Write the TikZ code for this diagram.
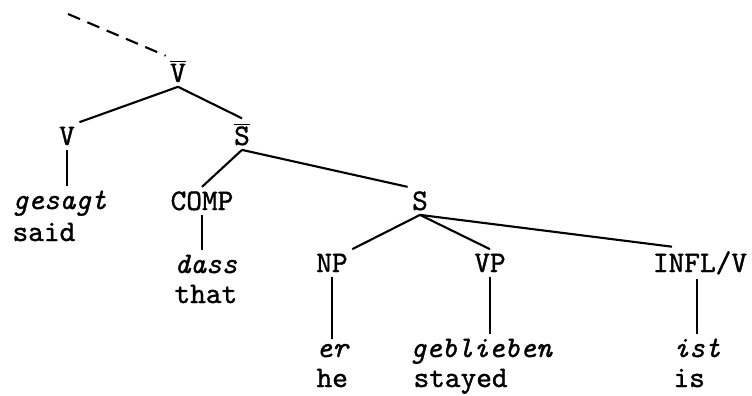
\documentclass[tikz,border=0pt]{standalone}
\usepackage{fontspec}
\setmonofont[Extension=.otf,ItalicFont=lmmono10-italic,FakeBold=1.2]{lmmono10-regular}
\usepackage{tikz}
\newcommand{\barcat}[1]{$\overline{\mbox{#1}}$}

\begin{document}
\begin{tikzpicture}[x=0.02cm,y=-0.02cm,line width=1.2pt,
  font=\fontsize{17}{20}\selectfont\ttfamily,
  cat/.style={inner sep=2pt,anchor=base},
  word/.style={inner sep=2pt,anchor=base west,font=\fontsize{17}{20}\selectfont\ttfamily\itshape},
  gloss/.style={inner sep=2pt,anchor=base west}]
\useasboundingbox (0,0) rectangle (752,396);
\node[cat] (vbar) at (178,82) {\barcat{V}};
\node[cat] (v) at (67,145) {V};
\node[cat] (sbar) at (242,145) {\barcat{S}};
\node[cat] (comp) at (202,210) {COMP};
\node[cat] (s) at (420,210) {S};
\node[cat] (np) at (332,272) {NP};
\node[cat] (vp) at (490,272) {VP};
\node[cat] (infl) at (700,272) {INFL/V};
\node[word] (gesagt) at (8,209) {gesagt};
\node[gloss] (said) at (8,241) {said};
\node[word] (dass) at (170,273) {dass};
\node[gloss] (that) at (170,303) {that};
\node[word] (er) at (312,357) {er};
\node[gloss] (he) at (312,387) {he};
\node[word] (geblieben) at (406,357) {geblieben};
\node[gloss] (stayed) at (409,387) {stayed};
\node[word] (ist) at (669,357) {ist};
\node[gloss] (is) at (669,387) {is};
\coordinate (up) at (68,14);
\draw[dash pattern=on 0.26cm off 0.16cm] (up) -- (vbar.north west);
\draw (vbar.south) -- (v.north east);
\draw (vbar.south) -- (sbar.north);
\draw (sbar.south) -- (comp.north);
\draw (sbar.south) -- (s.north west);
\draw (s.south) -- (np.north east);
\draw (s.south) -- (vp.north);
\draw (s.south) -- (infl.150);
\draw (v.south) -- (v.south |- gesagt.north);
\draw (comp.south) -- (comp.south |- dass.north);
\draw (np.south) -- (np.south |- er.north);
\draw (vp.south) -- (vp.south |- geblieben.north);
\draw (infl.south -| ist.north) -- (ist.north);
\end{tikzpicture}
\end{document}
